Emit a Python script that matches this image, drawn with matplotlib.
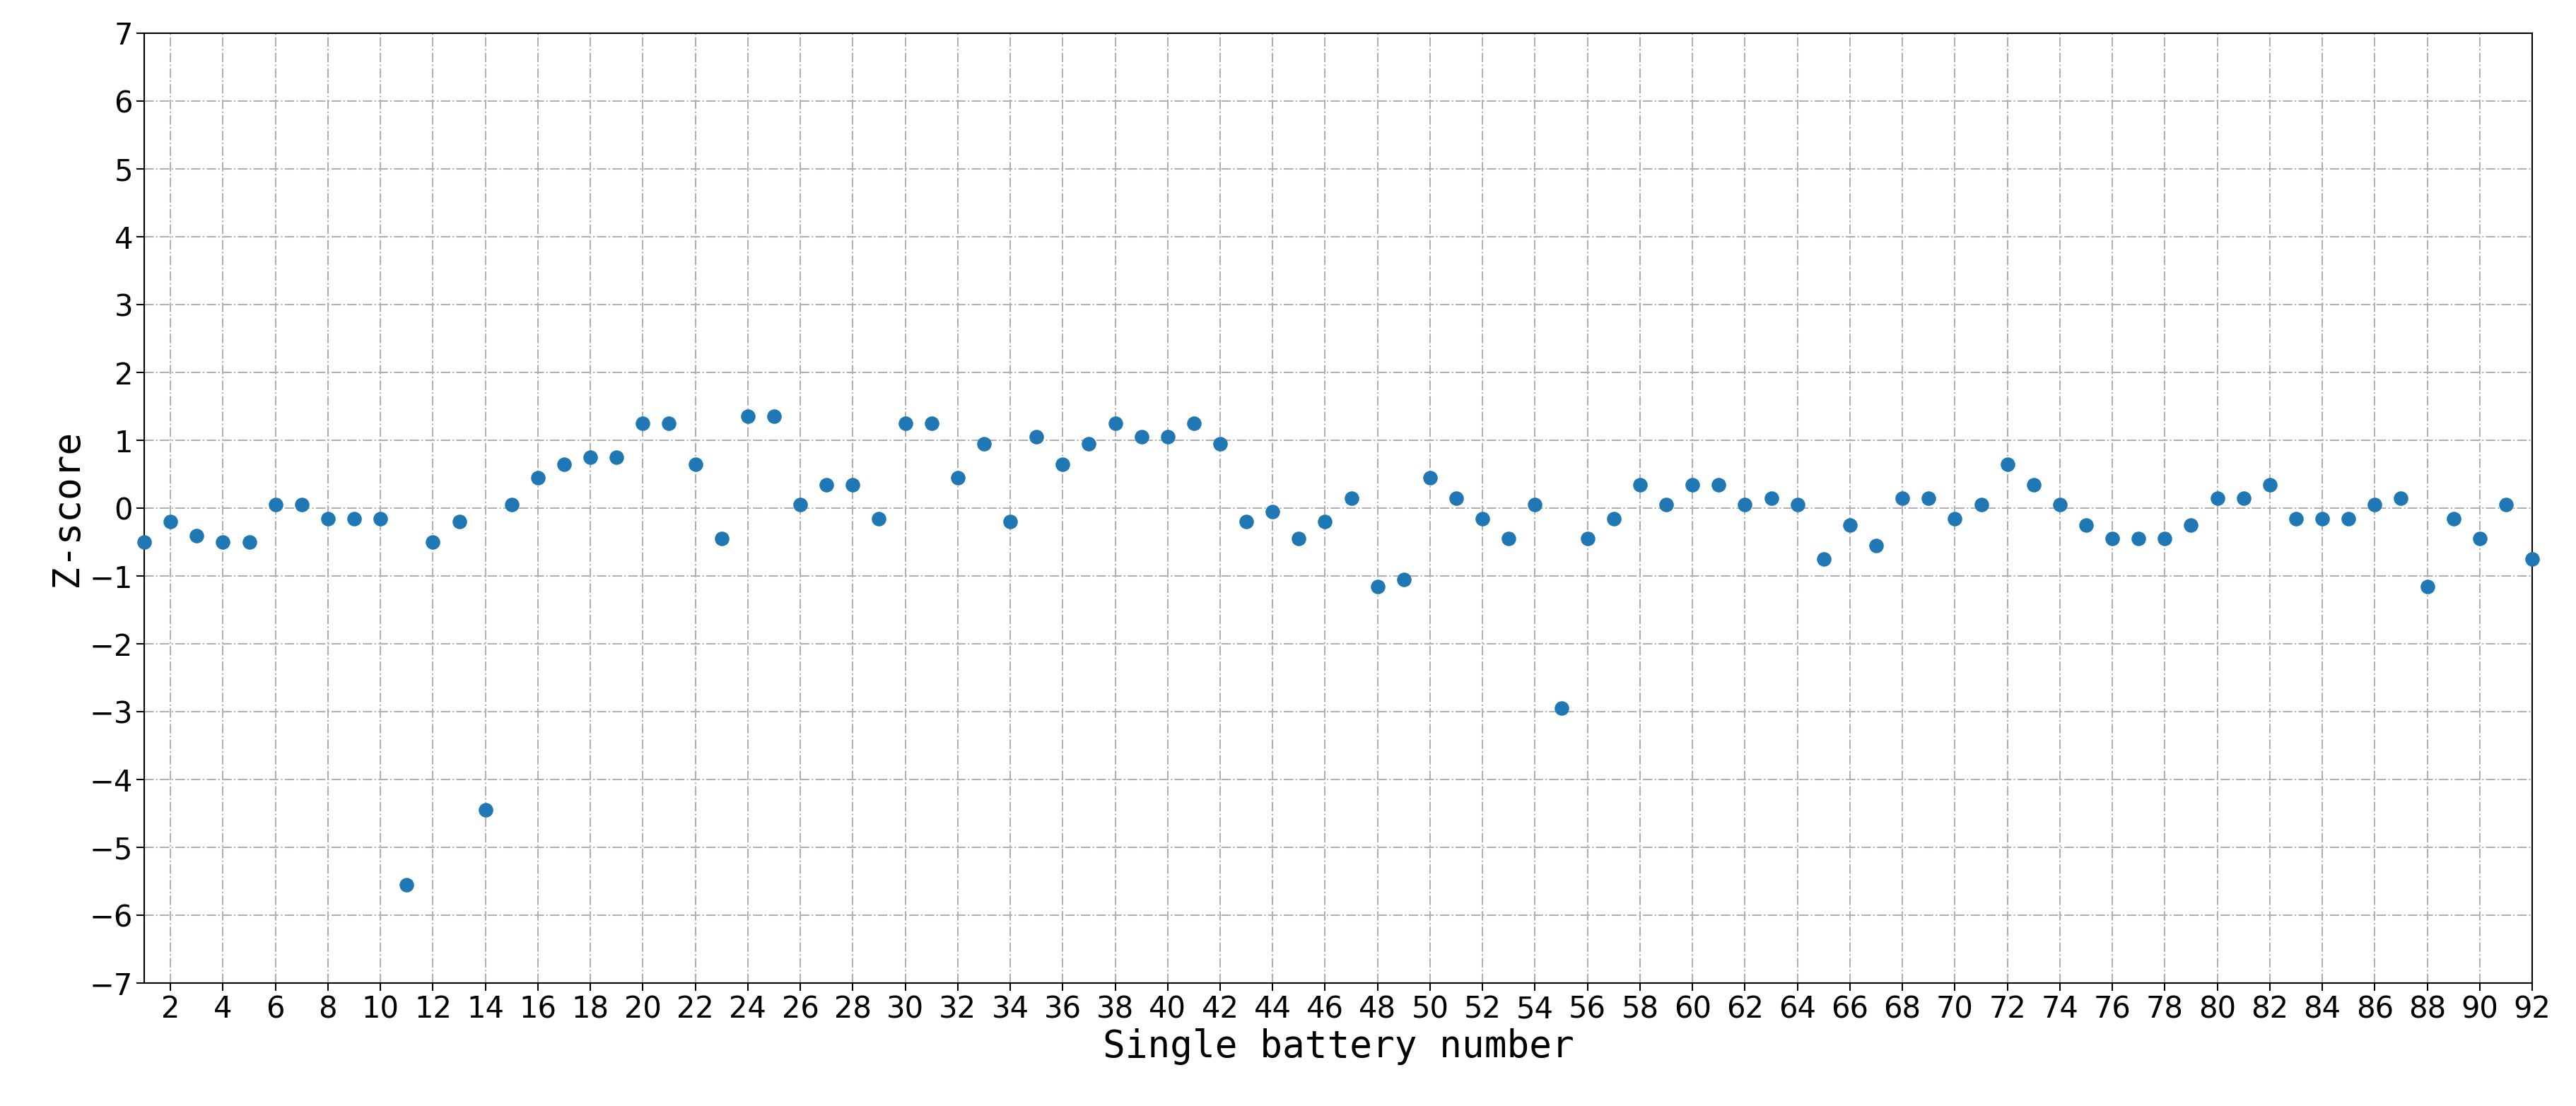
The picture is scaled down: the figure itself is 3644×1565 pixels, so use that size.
import matplotlib
matplotlib.use("Agg")
import matplotlib.pyplot as plt
from matplotlib import font_manager
import numpy as np

battery = list(range(1, 93))
zscore = [-0.5,-0.2,-0.4,-0.5,-0.5,0.05,0.05,-0.15,-0.15,-0.15,
          -5.55,-0.5,-0.2,-4.45,0.05,0.45,0.65,0.75,0.75,1.25,
          1.25,0.65,-0.45,1.35,1.35,0.05,0.35,0.35,-0.15,1.25,
          1.25,0.45,0.95,-0.2,1.05,0.65,0.95,1.25,1.05,1.05,
          1.25,0.95,-0.2,-0.05,-0.45,-0.2,0.15,-1.15,-1.05,0.45,
          0.15,-0.15,-0.45,0.05,-2.95,-0.45,-0.15,0.35,0.05,0.35,
          0.35,0.05,0.15,0.05,-0.75,-0.25,-0.55,0.15,0.15,-0.15,
          0.05,0.65,0.35,0.05,-0.25,-0.45,-0.45,-0.45,-0.25,0.15,
          0.15,0.35,-0.15,-0.15,-0.15,0.05,0.15,-1.15,-0.15,-0.45,
          0.05,-0.75]
xticks = list(range(2, 93, 2))
yticks = list(range(-7, 8))

names = {f.name for f in font_manager.fontManager.ttflist}
tickfont = "Liberation Sans Narrow" if "Liberation Sans Narrow" in names else "DejaVu Sans"

fig = plt.figure(figsize=(36.44, 15.65), dpi=100)
ax = fig.add_axes([0.056, 0.111, 0.927, 0.859])
ax.scatter(battery, zscore, s=190, color="#1f77b4", zorder=3, clip_on=False)
ax.set_xlim(1, 92)
ax.set_ylim(-7, 7)
ax.set_xticks(xticks)
ax.set_yticks(yticks)
ax.grid(True, linestyle="-.", color="#b0b0b0", linewidth=1.5)
ax.tick_params(labelsize=30, length=8, width=1.5)
for lab in ax.get_xticklabels() + ax.get_yticklabels():
    lab.set_family(tickfont)
for s in ax.spines.values():
    s.set_linewidth(1.5)
ax.set_xlabel("Single battery number", fontsize=38, family="DejaVu Sans Mono")
ax.set_ylabel("Z-score", fontsize=38, family="DejaVu Sans Mono")
fig.savefig("out.png", dpi=100)
